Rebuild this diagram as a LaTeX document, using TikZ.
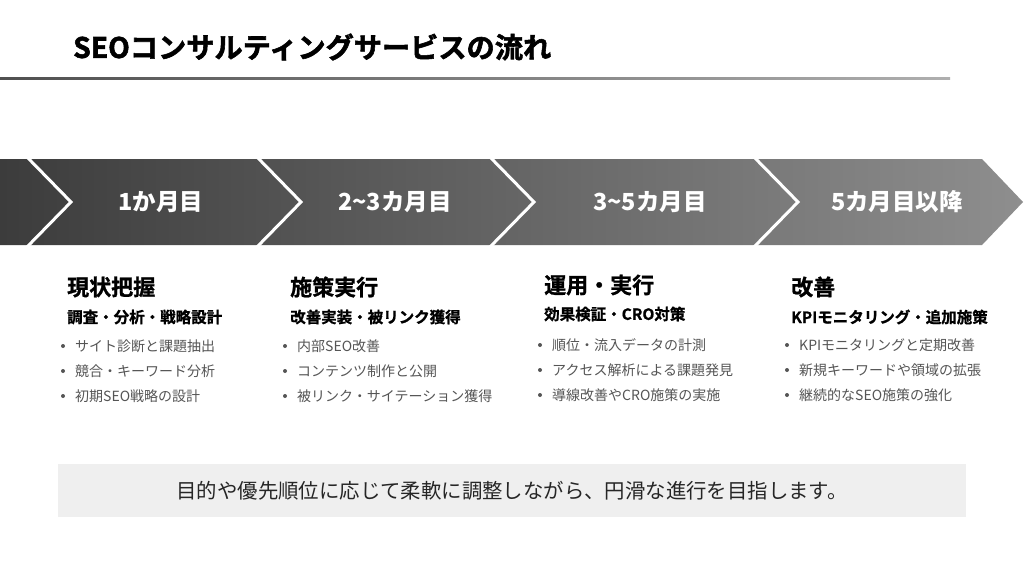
\documentclass[tikz,border=0pt]{standalone}
\usepackage{fontspec}
\setmainfont{Noto Sans CJK JP}
\newfontfamily\heavyfont{Noto Sans CJK JP}[UprightFont=* Bold, FakeBold=2]
\newfontfamily\semifont{Noto Sans CJK JP}[UprightFont=* Bold, FakeBold=1]
\usetikzlibrary{positioning}

\definecolor{bandL}{RGB}{60,60,60}
\definecolor{bandR}{RGB}{142,142,142}
\definecolor{ruleL}{RGB}{80,80,80}
\definecolor{ruleR}{RGB}{175,175,175}
\definecolor{itemgray}{RGB}{85,85,85}
\definecolor{notebg}{RGB}{239,239,239}

\begin{document}
\begin{tikzpicture}[x=1pt,y=-1pt]
        \tikzset{steplabel/.style={text=white, inner sep=0pt,
            font=\bfseries\fontsize{23.5}{27}\selectfont}}
        \tikzset{phase/.style={anchor=west, inner sep=0pt,
            font=\semifont\fontsize{22}{26}\selectfont}}
        \tikzset{phasesub/.style={anchor=west, inner sep=0pt,
            font=\semifont\fontsize{15.5}{18}\selectfont}}
        \tikzset{item/.style={anchor=west, inner sep=0pt, text=itemgray,
            font=\fontsize{14}{17}\selectfont}}
        \tikzset{dot/.style={circle, fill=itemgray, inner sep=0pt,
            minimum size=4pt}}
        \tikzset{sep/.style={white, line width=3pt}}

        \useasboundingbox (0,0) rectangle (1024,576);
        \fill[white] (0,0) rectangle (1024,576);

        % title
        \node[anchor=west, inner sep=0pt,
          font=\heavyfont\fontsize{28.2}{32}\selectfont] (title) at (73,47)
          {SEOコンサルティングサービスの流れ};
        \shade[left color=ruleL, right color=ruleR] (0,77) rectangle (950,79.5);

        % band
        \shade[left color=bandL, right color=bandR]
          (0,159) -- (982,159) -- (1023,202) -- (982,245) -- (0,245) -- cycle;
        \draw[sep] (26,156) -- (71,202) -- (26,248);
        \draw[sep] (256,156) -- (301,202) -- (256,248);
        \draw[sep] (489,156) -- (534,202) -- (489,248);
        \draw[sep] (753,156) -- (798,202) -- (753,248);

        \node[steplabel] (m1) at (161,202) {1か月目};
        \node[steplabel] (m2) at (395,202) {2\char"007E 3カ月目};
        \node[steplabel] (m3) at (650,202) {3\char"007E 5カ月目};
        \node[steplabel] (m4) at (897,202) {5カ月目以降};

        % columns
        \begin{scope}[xshift=75pt]
          \node[phase] (h1) at (-8,287) {現状把握};
          \node[phasesub] (s1) at (-8,317) {調査・分析・戦略設計};
          \node[dot] at (-12,346) {};
          \node[item] (p11) at (0,346) {サイト診断と課題抽出};
          \node[dot] at (-12,371) {};
          \node[item] (p12) at (0,371) {競合・キーワード分析};
          \node[dot] at (-12,396) {};
          \node[item] (p13) at (0,396) {初期SEO戦略の設計};
        \end{scope}

        \begin{scope}[xshift=297pt]
          \node[phase] (h2) at (-7,287) {施策実行};
          \node[phasesub] (s2) at (-7,317) {改善実装・被リンク獲得};
          \node[dot] at (-12,346) {};
          \node[item] (p21) at (0,346) {内部SEO改善};
          \node[dot] at (-12,371) {};
          \node[item] (p22) at (0,371) {コンテンツ制作と公開};
          \node[dot] at (-12,396) {};
          \node[item] (p23) at (0,396) {被リンク・サイテーション獲得};
        \end{scope}

        \begin{scope}[xshift=552pt]
          \node[phase] (h3) at (-8,285) {運用・実行};
          \node[phasesub] (s3) at (-8,314) {効果検証・CRO対策};
          \node[dot] at (-12,345) {};
          \node[item] (p31) at (0,345) {順位・流入データの計測};
          \node[dot] at (-12,370) {};
          \node[item] (p32) at (0,370) {アクセス解析による課題発見};
          \node[dot] at (-12,395) {};
          \node[item] (p33) at (0,395) {導線改善やCRO施策の実施};
        \end{scope}

        \begin{scope}[xshift=799pt]
          \node[phase] (h4) at (-8,287) {改善};
          \node[phasesub] (s4) at (-8,317) {KPIモニタリング・追加施策};
          \node[dot] at (-12,345) {};
          \node[item] (p41) at (0,345) {KPIモニタリングと定期改善};
          \node[dot] at (-12,370) {};
          \node[item] (p42) at (0,370) {新規キーワードや領域の拡張};
          \node[dot] at (-12,395) {};
          \node[item] (p43) at (0,395) {継続的なSEO施策の強化};
        \end{scope}

        % note
        \node[fill=notebg, minimum width=908pt, minimum height=53pt,
          text=black!85, font=\fontsize{20.4}{24}\selectfont] (note) at (512,490.5)
          {目的や優先順位に応じて柔軟に調整しながら、円滑な進行を目指します。};
      \end{tikzpicture}
\end{document}
